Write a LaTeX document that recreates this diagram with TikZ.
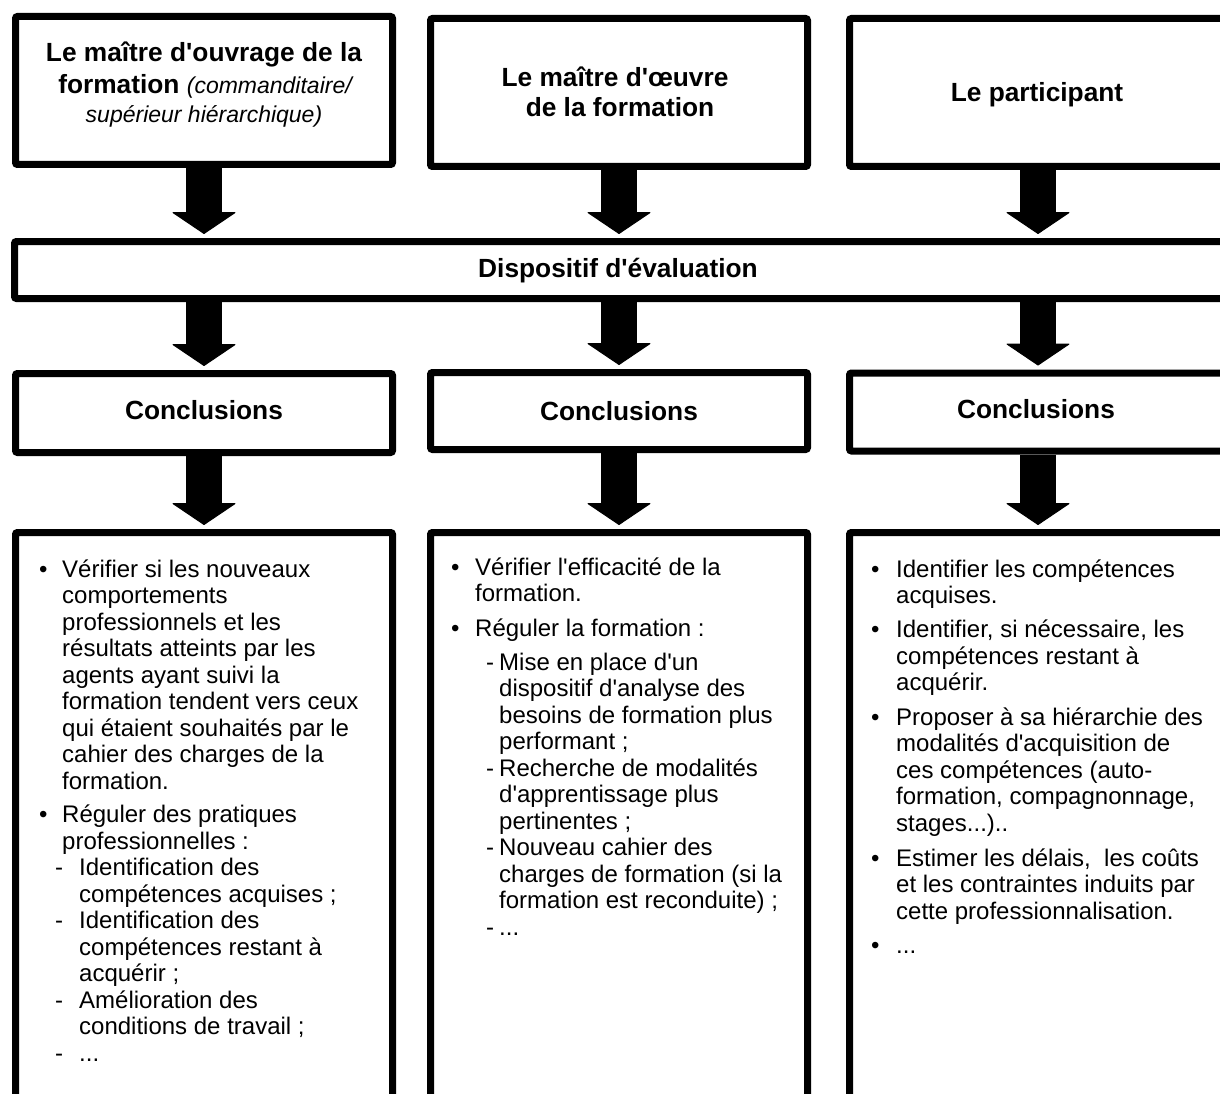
\documentclass[tikz,border=0pt]{standalone}
\usepackage{fontspec}
\setmainfont{Liberation Sans}[Ligatures=TeXOff]
\usetikzlibrary{arrows.meta,positioning}

\begin{document}
\begin{tikzpicture}[x=1pt,y=-1pt,
  box/.style={draw,line width=7pt,rounded corners=2pt,minimum width=377pt,inner sep=0pt},
  titletext/.style={font=\fontsize{26.3}{30}\selectfont\bfseries,inner sep=0pt,anchor=base},
  asidetext/.style={font=\fontsize{23}{28}\selectfont\itshape,inner sep=0pt,anchor=base},
  itemtext/.style={font=\fontsize{24}{26.5}\selectfont,inner sep=0pt,anchor=base west},
  bigarrow/.style={line width=36pt,-{Triangle[length=22pt,width=65pt,line width=1pt,round]},shorten >=4pt},
]
\useasboundingbox (0,0) rectangle (1220,1094);
\clip (0,0) rectangle (1220,1094);

% three columns of boxes
\foreach \c/\x/\dy in {1/204/0,2/619/2,3/1038/1}{
  \node[box,minimum height=148pt] (actor\c) at (\x,{90.5+min(\dy,1)*2}) {};
  \node[box,minimum height={79pt-\dy*1pt}] (concl\c) at (\x,{413-\dy}) {};
  \node[box,minimum height=594pt] (goals\c) at (\x,829.5) {};
}
\node[box,minimum width=1222pt,minimum height=57pt] (eval) at (625.5,270) {};

% block arrows
\foreach \c in {1,2,3}{
  \draw[bigarrow] (actor\c.south) -- (actor\c.south |- eval.north);
  \draw[bigarrow] (eval.south -| concl\c.north) -- (concl\c.north);
  \draw[bigarrow] (concl\c.south) -- (goals\c.north);
}

% titles
\node[titletext] (who1a) at (204,62) {Le maître d'ouvrage de la};
\node[titletext] (who1b) at (205,93.5) {formation {\mdseries\itshape\fontsize{23}{28}\selectfont (commanditaire/}};
\node[asidetext] (who1c) at (204,122.5) {supérieur hiérarchique)};
\node[titletext] (who2a) at (615,87) {Le maître d'œuvre};
\node[titletext] (who2b) at (620,117) {de la formation};
\node[titletext] (who3) at (1037,102) {Le participant};
\node[titletext] (evaltext) at (618,277) {Dispositif d'évaluation};
\node[titletext] (ctext1) at (204,419.5) {Conclusions};
\node[titletext] (ctext2) at (619,420) {Conclusions};
\node[titletext] (ctext3) at (1036,418) {Conclusions};

% column 1
\foreach \l [count=\i from 0] in {Vérifier si les nouveaux,comportements,professionnels et les,
  résultats atteints par les,agents ayant suivi la,formation tendent vers ceux,
  qui étaient souhaités par le,cahier des charges de la,formation.}
  \node[itemtext] (l1a\i) at (62,{577+26.5*\i}) {\l};
\foreach \l [count=\i from 0] in {Réguler des pratiques,professionnelles :}
  \node[itemtext] (l1b\i) at (62,{822.5+26.5*\i}) {\l};
\foreach \l [count=\i from 0] in {Identification des,compétences acquises ;,Identification des,
  compétences restant à,acquérir ;,Amélioration des,conditions de travail ;}
  \node[itemtext] (l1s\i) at (79,{875.5+26.5*\i}) {\l};
\node[itemtext] (l1dots) at (79,1061) {...};
\foreach \y [count=\i] in {577,822.5}
  \node[itemtext] (b1\i) at (39,\y) {•};
\foreach \y [count=\i] in {875.5,928.5,1008,1061}
  \node[itemtext] (d1\i) at (55,\y) {-};

% column 2
\foreach \l [count=\i from 0] in {Vérifier l'efficacité de la,formation.}
  \node[itemtext] (l2a\i) at (475,{575+26.5*\i}) {\l};
\node[itemtext] (l2b0) at (475,636) {Réguler la formation :};
\foreach \l [count=\i from 0] in {Mise en place d'un,dispositif d'analyse des,besoins de formation plus,
  performant ;,Recherche de modalités,d'apprentissage plus,pertinentes ;,Nouveau cahier des,
  charges de formation (si la,formation est reconduite) ;}
  \node[itemtext] (l2s\i) at (499,{670+26.5*\i}) {\l};
\node[itemtext] (l2dots) at (499,935) {...};
\foreach \y [count=\i] in {575,636}
  \node[itemtext] (b2\i) at (451,\y) {•};
\foreach \y [count=\i] in {670,776,855.5,935}
  \node[itemtext] (d2\i) at (486,\y) {-};

% column 3
\foreach \l [count=\i from 0] in {Identifier les compétences,acquises.}
  \node[itemtext] (l3a\i) at (896,{577+26.5*\i}) {\l};
\foreach \l [count=\i from 0] in {{Identifier, si nécessaire, les},compétences restant à,acquérir.}
  \node[itemtext] (l3b\i) at (896,{637.5+26.5*\i}) {\l};
\foreach \l [count=\i from 0] in {Proposer à sa hiérarchie des,modalités d'acquisition de,
  ces compétences (auto-,{formation, compagnonnage,}}
  \node[itemtext] (l3c\i) at (896,{725+26.5*\i}) {\l};
\node[itemtext] (l3c4) at (896,831) {stages...)..};
\foreach \l [count=\i from 0] in {{Estimer les délais,~~les coûts},et les contraintes induits par,
  cette professionnalisation.}
  \node[itemtext] (l3d\i) at (896,{866+26.5*\i}) {\l};
\node[itemtext] (l3dots) at (896,953.5) {...};
\foreach \y [count=\i] in {577,637.5,725,866,953.5}
  \node[itemtext] (b3\i) at (871,\y) {•};
\end{tikzpicture}
\end{document}
